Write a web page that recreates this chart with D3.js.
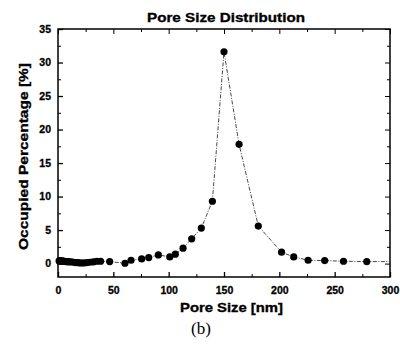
<!DOCTYPE html>
<html>
<head>
<meta charset="utf-8">
<script src="https://cdn.jsdelivr.net/npm/d3@7"></script>
<style>
  body { margin: 0; background: #fff; }
  svg { display: block; }
  .tick text { font-family: "Liberation Sans", Arial, sans-serif; font-weight: bold; font-size: 10.5px; stroke: #000; stroke-width: 0.3px; }
</style>
</head>
<body>
<svg id="chart" width="400" height="349"></svg>
<script>
// Pore size [nm]
const poreSize = [1, 2, 3, 4, 5, 6, 7, 8, 9, 10, 12, 14, 16, 18, 20, 23, 26, 29, 32, 35, 38.5,
  46.7, 60.5, 66, 75.6, 82, 90.7, 101, 106, 113, 120.8, 129.5, 139.5, 150, 163.6, 181,
  202, 213, 226, 241, 258, 279, 300];
// Occupied percentage [%]
const occupied = [0.4, 0.45, 0.4, 0.4, 0.35, 0.35, 0.3, 0.3, 0.3, 0.25, 0.25, 0.2, 0.15, 0.15, 0.1, 0.1, 0.15, 0.2, 0.25, 0.35, 0.35,
  0.3, 0.05, 0.5, 0.7, 0.9, 1.3, 1.0, 1.4, 2.3, 3.7, 5.3, 9.3, 31.6, 17.8, 5.6,
  1.7, 1.0, 0.5, 0.45, 0.35, 0.3, 0.3];
const xTicks = [0, 50, 100, 150, 200, 250, 300];
const yTicks = [0, 5, 10, 15, 20, 25, 30, 35];

const margin = {top: 29, right: 10, bottom: 72, left: 58};
const width = 400, height = 349;
const svg = d3.select("#chart");

const x = d3.scaleLinear().domain([0, 300]).range([margin.left, width - margin.right]);
const y = d3.scaleLinear().domain([-2, 35]).range([height - margin.bottom, margin.top]);

const x0 = margin.left, x1 = width - margin.right;
const y0 = height - margin.bottom, y1 = margin.top;

// minor ticks
const xMinor = d3.range(25, 300, 50);
const yMinor = d3.range(-2.5, 35, 5).filter(v => v > -2);

// bottom axis
svg.append("g")
  .attr("transform", `translate(0,${y0})`)
  .call(d3.axisBottom(x).tickValues(xTicks).tickSizeInner(-5).tickSizeOuter(0).tickPadding(10))
  .call(g => g.select(".domain").remove())
  .call(g => g.selectAll("line").attr("stroke-width", 1.3));
svg.append("g")
  .attr("transform", `translate(0,${y0})`)
  .call(d3.axisBottom(x).tickValues(xMinor).tickSize(-3).tickFormat(""))
  .call(g => g.select(".domain").remove());
// top axis
svg.append("g")
  .attr("transform", `translate(0,${y1})`)
  .call(d3.axisTop(x).tickValues(xTicks).tickSize(-5).tickFormat(""))
  .call(g => g.select(".domain").remove());
svg.append("g")
  .attr("transform", `translate(0,${y1})`)
  .call(d3.axisTop(x).tickValues(xMinor).tickSize(-3).tickFormat(""))
  .call(g => g.select(".domain").remove());
// left axis
svg.append("g")
  .attr("transform", `translate(${x0},0)`)
  .call(d3.axisLeft(y).tickValues(yTicks).tickSizeInner(-5).tickSizeOuter(0).tickPadding(7))
  .call(g => g.select(".domain").remove())
  .call(g => g.selectAll("line").attr("stroke-width", 1.3));
svg.append("g")
  .attr("transform", `translate(${x0},0)`)
  .call(d3.axisLeft(y).tickValues(yMinor).tickSize(-3).tickFormat(""))
  .call(g => g.select(".domain").remove());
// right axis
svg.append("g")
  .attr("transform", `translate(${x1},0)`)
  .call(d3.axisRight(y).tickValues(yTicks).tickSize(-5).tickFormat(""))
  .call(g => g.select(".domain").remove());
svg.append("g")
  .attr("transform", `translate(${x1},0)`)
  .call(d3.axisRight(y).tickValues(yMinor).tickSize(-3).tickFormat(""))
  .call(g => g.select(".domain").remove());

// frame
svg.append("rect")
  .attr("x", x0).attr("y", y1)
  .attr("width", x1 - x0).attr("height", y0 - y1)
  .attr("fill", "none").attr("stroke", "#000").attr("stroke-width", 1.5);

const pts = poreSize.map((p, i) => ({p, v: occupied[i]}));

// dash-dot line
const line = d3.line().x(d => x(d.p)).y(d => y(d.v));
svg.append("path")
  .datum(pts)
  .attr("d", line)
  .attr("fill", "none")
  .attr("stroke", "#333")
  .attr("stroke-width", 0.9)
  .attr("stroke-dasharray", "4,1.5,1,1.5");

// markers
svg.append("g")
  .selectAll("circle")
  .data(pts.filter(d => d.p < 300))
  .join("circle")
  .attr("cx", d => x(d.p))
  .attr("cy", d => y(d.v))
  .attr("r", 3.6)
  .attr("fill", "#000");

// texts
function label(t, len) {
  return t.attr("font-family", "Liberation Sans, Arial, sans-serif")
    .attr("font-weight", "bold")
    .attr("stroke", "#000").attr("stroke-width", 0.35)
    .attr("text-anchor", "middle")
    .attr("textLength", len)
    .attr("lengthAdjust", "spacingAndGlyphs");
}

label(svg.append("text").attr("x", 226).attr("y", 21.5).attr("font-size", 13.5), 158)
  .text("Pore Size Distribution");

label(svg.append("text").attr("x", 231.5).attr("y", 312).attr("font-size", 13.5), 103)
  .text("Pore Size [nm]");

label(svg.append("text")
  .attr("transform", "translate(28,156.5) rotate(-90)")
  .attr("font-size", 13.5), 187)
  .text("Occupied Percentage [%]");

svg.append("text")
  .attr("x", 201).attr("y", 334)
  .attr("text-anchor", "middle")
  .attr("font-family", "Liberation Serif, Times New Roman, serif")
  .attr("font-size", 17)
  .text("(b)");
</script>
</body>
</html>
